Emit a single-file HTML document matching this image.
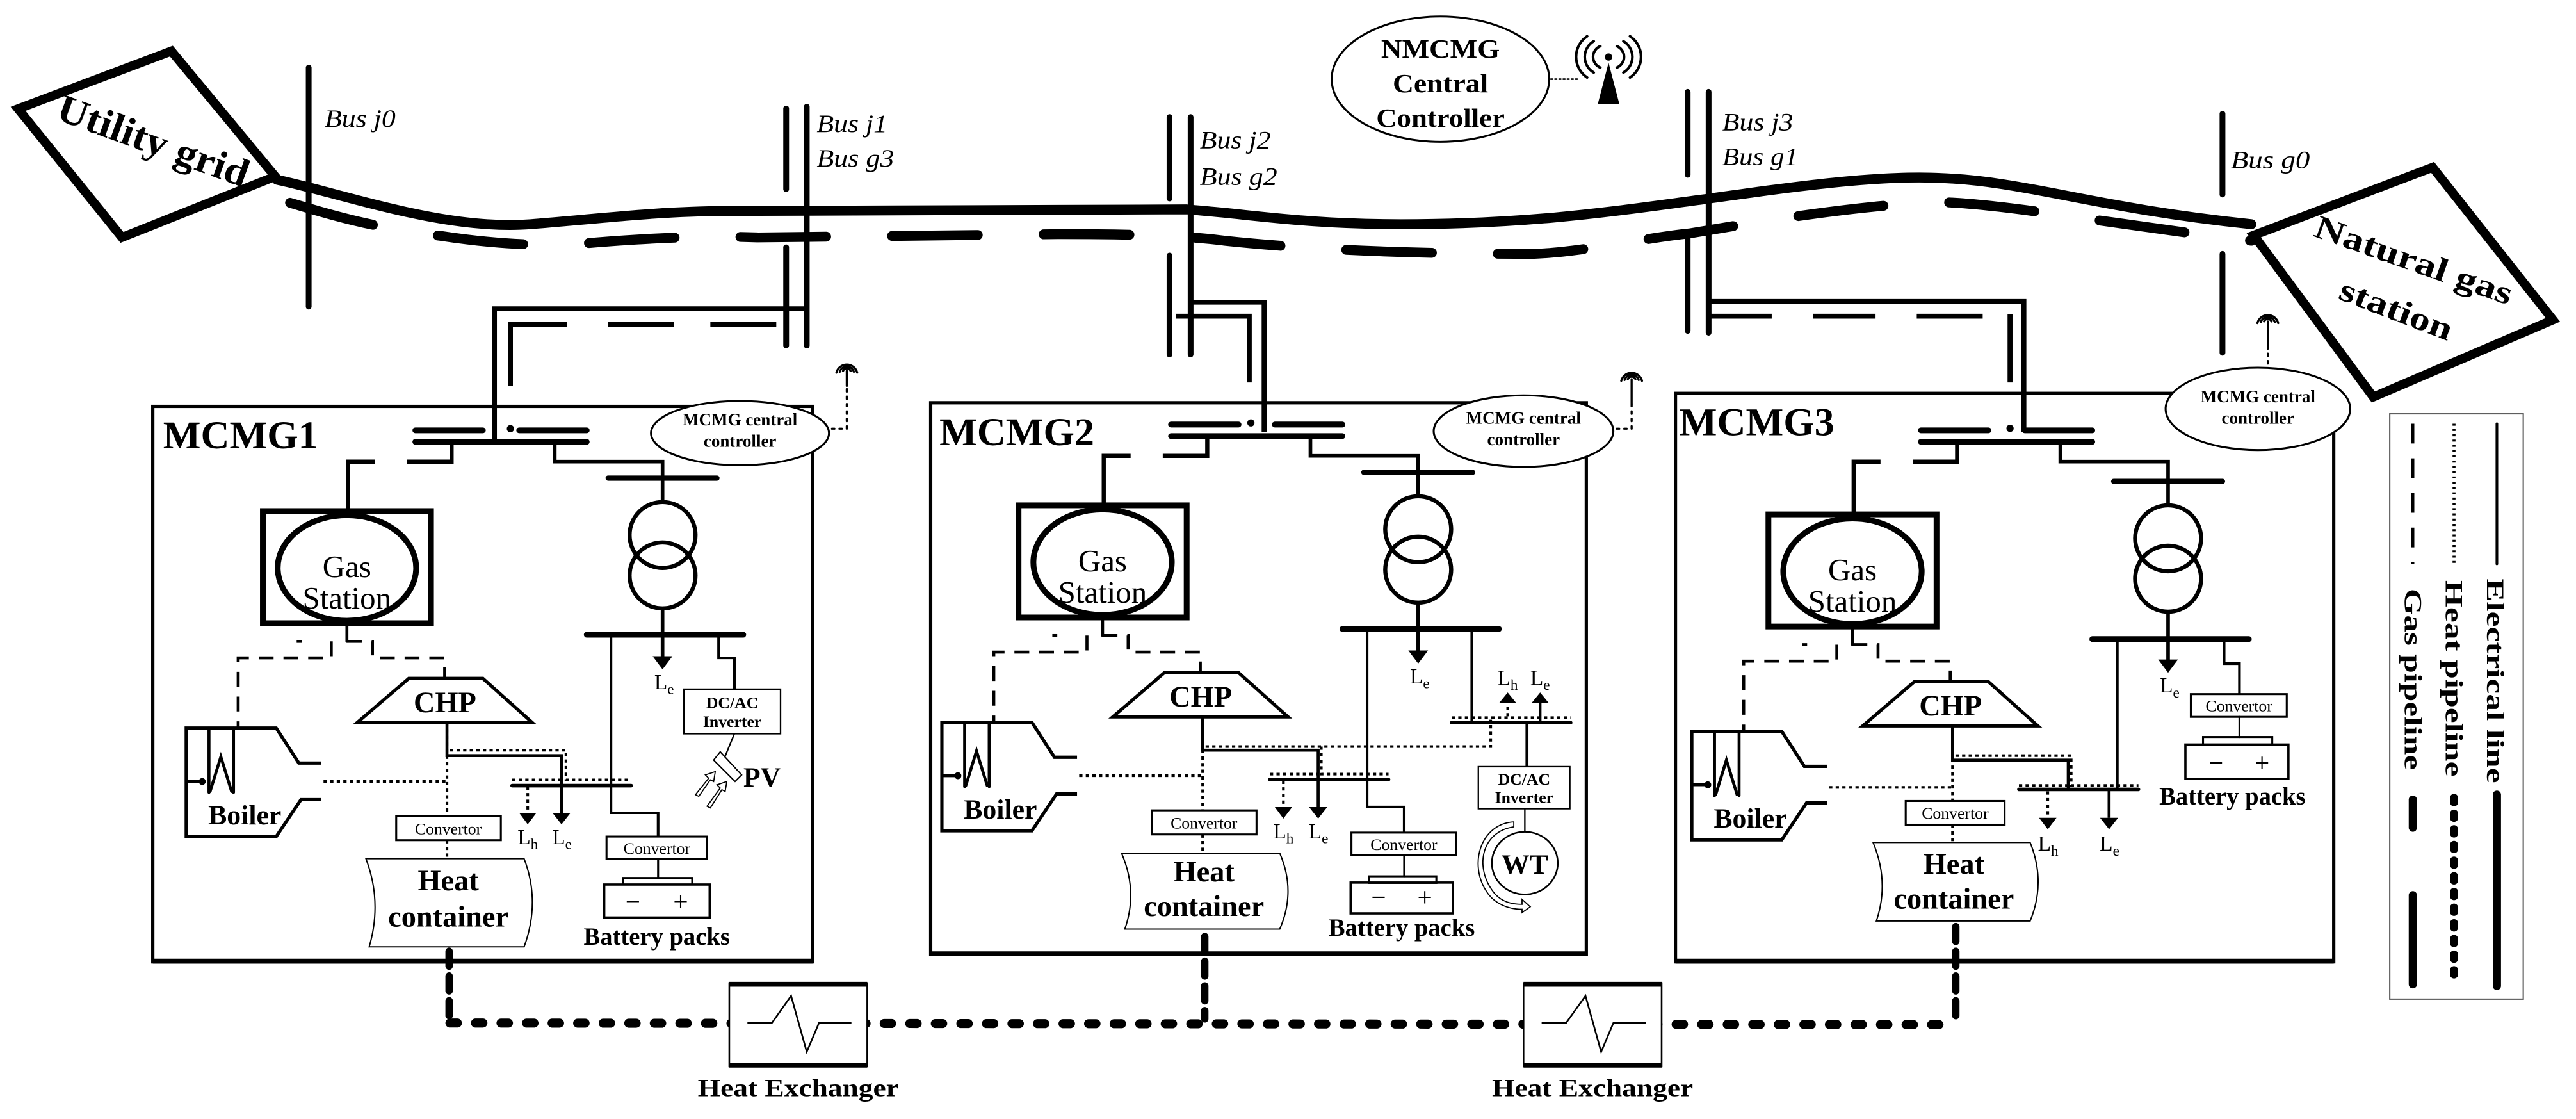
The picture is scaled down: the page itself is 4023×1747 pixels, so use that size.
<!DOCTYPE html>
<html><head><meta charset="utf-8"><style>
html,body{margin:0;padding:0;background:#fff;}
svg{display:block;}
text{font-family:"Liberation Serif",serif;fill:#000;}
.b{font-weight:bold;}
</style></head><body>
<svg xmlns="http://www.w3.org/2000/svg" width="4023" height="1747" viewBox="0 0 1563 678.7" preserveAspectRatio="none">
<rect x="0" y="0" width="1563" height="679" fill="#fff"/>
<g stroke="#000" fill="none" stroke-linecap="round">
<!-- utility grid -->
<polygon points="104,31 11,66 74,144 167,107" stroke-width="5.5" stroke-linejoin="miter" fill="#fff"/>
<!-- natural gas station -->
<polygon points="1476,101.5 1367.5,142.7 1440,240.8 1549,194" stroke-width="5.5" fill="#fff"/>
<!-- main electric line -->
<path d="M168,109 C210,118 270,140 322,136 C360,133 400,128 440,128 L720,127 C760,130 790,136 850,136 C930,136 980,128 1033,121 C1090,113 1140,106 1178,108 C1230,110 1270,126 1366,136" stroke-width="6"/>
<!-- main gas line -->
<path d="M176,123 C200,130 225,138 267,143 C300,148 330,150 362,147 C400,144 430,143 460,144 L644,142 C690,142 720,143 743,146 C790,151 850,154 930,154 C960,153 1000,144 1025,141.6 C1070,134 1130,124 1178,122.6 C1220,124 1280,136 1366,146" stroke-width="6" stroke-dasharray="52 40"/>
<!-- buses -->
<g stroke-width="3.5">
<line x1="187.3" y1="41" x2="187.3" y2="186"/>
<line x1="477" y1="65.8" x2="477" y2="114.8"/><line x1="477" y1="150" x2="477" y2="209.6"/>
<line x1="489.5" y1="64.7" x2="489.5" y2="209.6"/>
<line x1="709.6" y1="71" x2="709.6" y2="120.4"/><line x1="709.6" y1="155" x2="709.6" y2="215"/>
<line x1="722.4" y1="71" x2="722.4" y2="215"/>
<line x1="1024" y1="55.7" x2="1024" y2="106"/><line x1="1024" y1="140.5" x2="1024" y2="200.7"/>
<line x1="1036.7" y1="55.7" x2="1036.7" y2="201.8"/>
<line x1="1348.5" y1="69" x2="1348.5" y2="118"/><line x1="1348.5" y1="154" x2="1348.5" y2="214"/>
</g>
<!-- connections -->
<g stroke-width="3" stroke-linecap="butt">
<path d="M489.5,187.3 H300 V268"/>
<path d="M471,196.7 H309.7 V234" stroke-dasharray="40 22 40 25 80"/>
<path d="M722.4,183.3 H767 V262"/>
<path d="M713.5,191.8 H758 V232"/>
<path d="M1036.7,182.9 H1228 V262"/>
<path d="M1037.7,191.8 H1075 M1100,191.8 H1138 M1163,191.8 H1203 M1219.6,190.7 V232"/>
</g>
<!-- MCMG boxes -->
<rect x="92.7" y="246.5" width="400.3" height="336.9" stroke-width="2"/>
<rect x="564.7" y="244.3" width="397.8" height="334.4" stroke-width="2"/>
<rect x="1016.6" y="238.6" width="399.4" height="344.8" stroke-width="2"/>
<line x1="92.7" y1="583" x2="493" y2="583" stroke-width="3" stroke-linecap="butt"/>
<line x1="564.7" y1="578.5" x2="962.5" y2="578.5" stroke-width="3" stroke-linecap="butt"/>
<line x1="1016.6" y1="583" x2="1416" y2="583" stroke-width="3" stroke-linecap="butt"/>
<!-- controllers -->
<ellipse cx="874" cy="48" rx="66" ry="38" stroke-width="1.2" fill="#fff"/>
<line x1="941" y1="48" x2="958" y2="48" stroke-width="1" stroke-dasharray="1 1.5"/>
<ellipse cx="449" cy="262.7" rx="54" ry="19.5" stroke-width="1.2" fill="#fff"/>
<ellipse cx="924.4" cy="261.5" rx="54.5" ry="21.7" stroke-width="1.2" fill="#fff"/>
<ellipse cx="1370" cy="248" rx="56" ry="25" stroke-width="1.2" fill="#fff"/>
<g stroke-width="1.3" stroke-dasharray="1.5 3">
<path d="M513.8,236 V260 H503"/>
<path d="M990,245 V260 H980"/>
<path d="M1376,210 V223"/>
</g>
<!-- antennas -->
<g stroke-width="1.3">
<path d="M513.8,225 V234"/><path d="M511.5,225 a2.5,2.5 0 0 1 4.6,0 M509.5,225.5 a4.5,4.5 0 0 1 8.6,0 M507.5,226 a6.5,6.5 0 0 1 12.6,0"/>
<path d="M990,230 V245"/><path d="M987.7,230 a2.5,2.5 0 0 1 4.6,0 M985.7,230.5 a4.5,4.5 0 0 1 8.6,0 M983.7,231 a6.5,6.5 0 0 1 12.6,0"/>
<path d="M1376,195 V210"/><path d="M1373.7,195 a2.5,2.5 0 0 1 4.6,0 M1371.7,195.5 a4.5,4.5 0 0 1 8.6,0 M1369.7,196 a6.5,6.5 0 0 1 12.6,0"/>
<path d="M971,28 a7,7 0 0 0 0,13 M967,25 a11,11 0 0 0 0,19 M963,22 a15,15 0 0 0 0,25 M981,28 a7,7 0 0 1 0,13 M985,25 a11,11 0 0 1 0,19 M989,22 a15,15 0 0 1 0,25" stroke-width="1.6"/>
</g>
<polygon points="969.5,63 982.5,63 976,38" fill="#000" stroke="none"/>
<circle cx="976" cy="34.6" r="2.2" fill="#000" stroke="none"/>

<!-- bottom heat pipe -->
<line x1="273" y1="620.5" x2="1186.7" y2="621.5" stroke-width="5.5" stroke-dasharray="4.5 11"/>
<g stroke-width="4.5" stroke-dasharray="9 6">
<line x1="272.5" y1="577" x2="272.5" y2="618"/>
<line x1="731" y1="568" x2="731" y2="618"/>
<line x1="1186.7" y1="562" x2="1186.7" y2="618"/>
</g>
<!-- heat exchangers -->
<g stroke-linecap="butt">
<rect x="442.5" y="596.3" width="83.7" height="50.5" fill="#fff" stroke-width="1"/>
<line x1="442.5" y1="597" x2="526.2" y2="597" stroke-width="3"/><line x1="442.5" y1="646" x2="526.2" y2="646" stroke-width="3"/>
<polyline points="453.5,620.5 468.3,620.5 480,604 489.5,638 497,620.3 516.6,620.3" stroke-width="1"/>
<rect x="924.4" y="596.3" width="83.8" height="50.5" fill="#fff" stroke-width="1"/>
<line x1="924.4" y1="597" x2="1008.2" y2="597" stroke-width="3"/><line x1="924.4" y1="646" x2="1008.2" y2="646" stroke-width="3"/>
<polyline points="935.4,620.5 950.2,620.5 962,604 971.5,638 979,620.3 998.6,620.3" stroke-width="1"/>
</g>

<!-- legend -->
<rect x="1450" y="251" width="81" height="355" stroke="#555" stroke-width="0.8" stroke-linecap="butt"/>
<line x1="1515" y1="257" x2="1515" y2="342" stroke-width="1.6"/>
<line x1="1489" y1="257" x2="1489" y2="342" stroke-width="1.8" stroke-dasharray="1.2 2" stroke-linecap="butt"/>
<line x1="1464" y1="257" x2="1464" y2="342" stroke-width="1.8" stroke-dasharray="12 9" stroke-linecap="butt"/>
<line x1="1515" y1="482" x2="1515" y2="598" stroke-width="5"/>
<line x1="1489" y1="484" x2="1489" y2="598" stroke-width="5" stroke-dasharray="2.5 7"/>
<line x1="1464" y1="485" x2="1464" y2="502" stroke-width="5"/>
<line x1="1464" y1="543" x2="1464" y2="597" stroke-width="5"/>
</g>

<!-- top texts -->
<text class="b" transform="translate(33,72) rotate(20)" font-size="24" textLength="122" lengthAdjust="spacingAndGlyphs">Utility grid</text>
<text class="b" transform="translate(1403,143) rotate(19.5)" font-size="20" textLength="126" lengthAdjust="spacingAndGlyphs">Natural gas</text>
<text class="b" transform="translate(1418,181) rotate(21)" font-size="20" textLength="72" lengthAdjust="spacingAndGlyphs">station</text>
<g font-style="italic" font-size="15">
<text x="197" y="77" textLength="43" lengthAdjust="spacingAndGlyphs">Bus j0</text>
<text x="495.5" y="80" textLength="43" lengthAdjust="spacingAndGlyphs">Bus j1</text>
<text x="495.5" y="101" textLength="47" lengthAdjust="spacingAndGlyphs">Bus g3</text>
<text x="728" y="90" textLength="43" lengthAdjust="spacingAndGlyphs">Bus j2</text>
<text x="728" y="112" textLength="47" lengthAdjust="spacingAndGlyphs">Bus g2</text>
<text x="1045" y="79" textLength="43" lengthAdjust="spacingAndGlyphs">Bus j3</text>
<text x="1045" y="100" textLength="46" lengthAdjust="spacingAndGlyphs">Bus g1</text>
<text x="1353.5" y="102" textLength="48" lengthAdjust="spacingAndGlyphs">Bus g0</text>
</g>
<g class="b" text-anchor="middle" font-size="16">
<text x="874" y="35" textLength="72" lengthAdjust="spacingAndGlyphs">NMCMG</text>
<text x="874" y="56" textLength="58" lengthAdjust="spacingAndGlyphs">Central</text>
<text x="874" y="77" textLength="78" lengthAdjust="spacingAndGlyphs">Controller</text>
</g>
<g class="b" text-anchor="middle" font-size="10.5">
<text x="449" y="258">MCMG central</text><text x="449" y="271">controller</text>
<text x="924.4" y="257">MCMG central</text><text x="924.4" y="270">controller</text>
<text x="1370" y="244">MCMG central</text><text x="1370" y="257">controller</text>
</g>
<g class="b" font-size="24">
<text x="99" y="272" textLength="94" lengthAdjust="spacingAndGlyphs">MCMG1</text>
<text x="570" y="270" textLength="94" lengthAdjust="spacingAndGlyphs">MCMG2</text>
<text x="1019" y="264" textLength="94" lengthAdjust="spacingAndGlyphs">MCMG3</text>
</g>
<g class="b" text-anchor="middle" font-size="15">
<text x="484.4" y="665" textLength="122" lengthAdjust="spacingAndGlyphs">Heat Exchanger</text>
<text x="966.3" y="665" textLength="122" lengthAdjust="spacingAndGlyphs">Heat Exchanger</text>
</g>
<g class="b" font-size="15">
<text transform="translate(1509,351) rotate(90)" textLength="124" lengthAdjust="spacingAndGlyphs">Electrical line</text>
<text transform="translate(1484,352) rotate(90)" textLength="119" lengthAdjust="spacingAndGlyphs">Heat pipeline</text>
<text transform="translate(1459,357) rotate(90)" textLength="110" lengthAdjust="spacingAndGlyphs">Gas pipeline</text>
</g>

<!-- ================= MCMG1 ================= -->
<g>
<g stroke="#000" fill="none" stroke-linecap="round">
<line x1="252" y1="261" x2="293" y2="261" stroke-width="3.5"/>
<line x1="315" y1="261" x2="356" y2="261" stroke-width="3.5"/>
<line x1="252" y1="268" x2="356" y2="268" stroke-width="3.5"/>
<path d="M274,268 V280 H247 M227.5,280 H211.2 V310" stroke-width="2.5" stroke-linecap="butt"/>
<path d="M336.6,268 V280 H402 V305" stroke-width="2.2" stroke-linecap="butt"/>
<line x1="369" y1="290" x2="435" y2="290" stroke-width="3.2"/>
<circle cx="402" cy="324.5" r="20" stroke-width="2.5"/>
<circle cx="402" cy="349" r="20" stroke-width="2.5"/>
<line x1="402" y1="369" x2="402" y2="399" stroke-width="2.2" stroke-linecap="butt"/>
<line x1="356" y1="385" x2="451" y2="385" stroke-width="3.5"/>
<path d="M436,385 V399 H445.6 V418" stroke-width="1.6" stroke-linecap="butt"/>
<rect x="415" y="418" width="58.6" height="27" stroke-width="0.9" fill="#fff"/>
<line x1="445.6" y1="445" x2="437.4" y2="465" stroke-width="0.9"/>
<path d="M437,456 L450,470 L446,474 L433,461 Z" stroke-width="0.8" fill="#fff"/>
<path d="M422,482 L430,472 L428,470 L434,468 L433,474 L431,473 L424,483 Z M429,489 L437,478 L435,476 L441,474 L440,480 L438,479 L431,490 Z" stroke-width="0.7" fill="#fff"/>
<path d="M370.7,385 V493 H399.3 V507.4" stroke-width="1.6" stroke-linecap="butt"/>
<rect x="368" y="507.4" width="61" height="13.4" stroke-width="1.2" fill="#fff"/>
<line x1="399.3" y1="520.8" x2="399.3" y2="532.5" stroke-width="1.2"/>
<rect x="378" y="532.5" width="42" height="4" stroke-width="1.2"/>
<rect x="366.6" y="536.5" width="64" height="20" stroke-width="1.4"/>
<rect x="159.5" y="310" width="102" height="68" stroke-width="3.5" stroke-linecap="butt"/>
<ellipse cx="210.5" cy="344.5" rx="42" ry="32" stroke-width="3.5"/>
<line x1="210.5" y1="378" x2="210.5" y2="389" stroke-width="1.8"/>
<g stroke-width="1.8" stroke-linecap="butt">
<path d="M210.5,389 H226 V399 H269.8 V411.5" stroke-dasharray="9 6"/>
<path d="M201,389 V399 H144.5 V441.6" stroke-dasharray="9 6"/>
<line x1="180" y1="389" x2="183" y2="389"/>
</g>
<polygon points="248,411.5 293,411.5 323,438.3 216.7,438.3" stroke-width="2" fill="#fff" stroke-linejoin="miter"/>
<path d="M195,462.8 H181.3 L167.6,441.6 H113 V507.4 H167.6 L182.6,485 H195" stroke-width="2" stroke-linecap="butt"/>
<path d="M126.8,441.6 V480.6 M141.7,441.6 V480.6 M113,474 H122.7" stroke-width="1.8"/>
<polyline points="127.5,480 134,459 140.5,480" stroke-width="1.8" stroke-linejoin="miter"/>
<circle cx="122.7" cy="474" r="1.6" fill="#000"/>
<g stroke-width="1.6" stroke-dasharray="2 2" stroke-linecap="butt">
<path d="M196.3,474 H271.2"/>
<path d="M271.2,438.3 V495"/>
<path d="M271.2,509.6 V520.8"/>
<path d="M273,455 H343.4 V473 H383 M310.7,473 H343"/>
<path d="M320.2,477 V493"/>
</g>
<path d="M271.2,438.3 V458.3 H340.7 V493" stroke-width="1.8" stroke-linecap="butt"/>
<line x1="310.7" y1="476.5" x2="383" y2="476.5" stroke-width="2.2"/>
<rect x="240.4" y="495" width="63.5" height="14.6" stroke-width="1.2" fill="#fff"/>
<path d="M222,520.8 H318 Q328,547 318,574.3 H224 Q232,547 222,520.8 Z" stroke-width="0.8" fill="#fff"/>
</g>
<polygon points="396,398 408,398 402,406" fill="#000"/>
<polygon points="315,493 325.5,493 320.2,500" fill="#000"/>
<polygon points="335.2,493 346.2,493 340.7,500" fill="#000"/>
<g text-anchor="middle">
<text x="210.5" y="350" font-size="19">Gas</text>
<text x="210.5" y="369" font-size="19">Station</text>
<text class="b" x="270" y="432" font-size="18">CHP</text>
<text class="b" x="148.5" y="500" font-size="17">Boiler</text>
<text x="272" y="506" font-size="10">Convertor</text>
<text class="b" x="272" y="540" font-size="18">Heat</text>
<text class="b" x="272" y="562" font-size="18">container</text>
<text x="398.6" y="517.8" font-size="10">Convertor</text>
<text x="384" y="552" font-size="16">−</text><text x="413" y="552" font-size="16">+</text>
<text class="b" x="398.5" y="573" font-size="15">Battery packs</text>
<text class="b" x="444.3" y="429.5" font-size="10">DC/AC</text>
<text class="b" x="444.3" y="441" font-size="10">Inverter</text>
</g>
<text class="b" x="451" y="477" font-size="17">PV</text>
<text x="397" y="418" font-size="13">L<tspan font-size="9" dy="3">e</tspan></text>
<text x="314" y="512" font-size="13">L<tspan font-size="9" dy="3">h</tspan></text>
<text x="335" y="512" font-size="13">L<tspan font-size="9" dy="3">e</tspan></text>
<circle cx="309.7" cy="260" r="2.2" fill="#000"/>
</g>

<!-- ================= MCMG2 ================= -->
<g transform="translate(458.5,-3.5)">
<g stroke="#000" fill="none" stroke-linecap="round">
<line x1="252" y1="261" x2="293" y2="261" stroke-width="3.5"/>
<line x1="315" y1="261" x2="356" y2="261" stroke-width="3.5"/>
<line x1="252" y1="268" x2="356" y2="268" stroke-width="3.5"/>
<path d="M274,268 V280 H247 M227.5,280 H211.2 V310" stroke-width="2.5" stroke-linecap="butt"/>
<path d="M336.6,268 V280 H402 V305" stroke-width="2.2" stroke-linecap="butt"/>
<line x1="369" y1="290" x2="435" y2="290" stroke-width="3.2"/>
<circle cx="402" cy="324.5" r="20" stroke-width="2.5"/>
<circle cx="402" cy="349" r="20" stroke-width="2.5"/>
<line x1="402" y1="369" x2="402" y2="399" stroke-width="2.2" stroke-linecap="butt"/>
<line x1="356" y1="385" x2="451" y2="385" stroke-width="3.5"/>
<path d="M434.5,385 V441.8" stroke-width="1.6" stroke-linecap="butt"/>
<line x1="422.3" y1="441.8" x2="494.5" y2="441.8" stroke-width="2.2"/>
<line x1="422.3" y1="438.8" x2="494.5" y2="438.8" stroke-width="1.6" stroke-dasharray="2 2" stroke-linecap="butt"/>
<line x1="456.3" y1="438" x2="456.3" y2="429" stroke-width="1.6" stroke-dasharray="2 2" stroke-linecap="butt"/>
<line x1="476" y1="442" x2="476" y2="429" stroke-width="1.6" stroke-linecap="butt"/>
<line x1="468" y1="442" x2="468" y2="468.5" stroke-width="1.8" stroke-linecap="butt"/>
<rect x="438.5" y="468.5" width="55.5" height="25.5" stroke-width="0.9" fill="#fff"/>
<line x1="466.7" y1="494" x2="466.7" y2="508" stroke-width="0.9"/>
<ellipse cx="466.7" cy="527" rx="20" ry="19" stroke-width="1"/>
<path d="M460,505 C440,508 436,530 448,545 C452,550 458,552 465,552 L465,549 L470,553.5 L465,557 L465,555 C456,555 448,551 444,545 C432,528 440,503 460,502 Z" stroke-width="0.7" fill="#fff"/>
<path d="M371,385 V493 H393.5 V508.5" stroke-width="1.6" stroke-linecap="butt"/>
<rect x="361.5" y="508.5" width="63.5" height="13.5" stroke-width="1.2" fill="#fff"/>
<line x1="393.5" y1="522" x2="393.5" y2="535" stroke-width="1.2"/>
<rect x="372" y="535" width="41" height="4" stroke-width="1.2"/>
<rect x="361" y="538.8" width="62" height="18.7" stroke-width="1.4"/>
<rect x="159.5" y="310" width="102" height="68" stroke-width="3.5" stroke-linecap="butt"/>
<ellipse cx="210.5" cy="344.5" rx="42" ry="32" stroke-width="3.5"/>
<line x1="210.5" y1="378" x2="210.5" y2="389" stroke-width="1.8"/>
<g stroke-width="1.8" stroke-linecap="butt">
<path d="M210.5,389 H226 V399 H269.8 V411.5" stroke-dasharray="9 6"/>
<path d="M201,389 V399 H144.5 V441.6" stroke-dasharray="9 6"/>
<line x1="180" y1="389" x2="183" y2="389"/>
</g>
<polygon points="248,411.5 293,411.5 323,438.3 216.7,438.3" stroke-width="2" fill="#fff"/>
<path d="M195,462.8 H181.3 L167.6,441.6 H113 V507.4 H167.6 L182.6,485 H195" stroke-width="2" stroke-linecap="butt"/>
<path d="M126.8,441.6 V480.6 M141.7,441.6 V480.6 M113,474 H122.7" stroke-width="1.8"/>
<polyline points="127.5,480 134,459 140.5,480" stroke-width="1.8"/>
<circle cx="122.7" cy="474" r="1.6" fill="#000"/>
<g stroke-width="1.6" stroke-dasharray="2 2" stroke-linecap="butt">
<path d="M196.3,474 H271.2"/>
<path d="M271.2,438.3 V495"/>
<path d="M271.2,509.6 V520.8"/>
<path d="M273,456.3 H446 V440"/>
<path d="M343.2,456.3 V473 H384 M312,473 H343"/>
<path d="M320.2,477 V493"/>
</g>
<path d="M271.2,438.3 V458.5 H341.3 V493" stroke-width="1.8" stroke-linecap="butt"/>
<line x1="312" y1="476.3" x2="384" y2="476.3" stroke-width="2.2"/>
<rect x="240.4" y="495" width="63.5" height="14.6" stroke-width="1.2" fill="#fff"/>
<path d="M222,521 H318 Q328,544 318,567 H224 Q232,544 222,521 Z" stroke-width="0.8" fill="#fff"/>
</g>
<polygon points="396,398 408,398 402,406" fill="#000"/>
<polygon points="315,493 325.5,493 320.2,500" fill="#000"/>
<polygon points="335.8,493 346.8,493 341.3,500" fill="#000"/>
<polygon points="451,430 461.6,430 456.3,423.5" fill="#000"/>
<polygon points="470.7,430 481.3,430 476,423.5" fill="#000"/>
<g text-anchor="middle">
<text x="210.5" y="350" font-size="19">Gas</text>
<text x="210.5" y="369" font-size="19">Station</text>
<text class="b" x="270" y="432" font-size="18">CHP</text>
<text class="b" x="148.5" y="500" font-size="17">Boiler</text>
<text x="272" y="506" font-size="10">Convertor</text>
<text class="b" x="272" y="538" font-size="18">Heat</text>
<text class="b" x="272" y="559" font-size="18">container</text>
<text x="393.3" y="519" font-size="10">Convertor</text>
<text x="378" y="553" font-size="16">−</text><text x="406" y="553" font-size="16">+</text>
<text class="b" x="392" y="571" font-size="15">Battery packs</text>
<text class="b" x="466.3" y="479.5" font-size="10">DC/AC</text>
<text class="b" x="466.3" y="490.5" font-size="10">Inverter</text>
<text class="b" x="466.7" y="533.5" font-size="17">WT</text>
</g>
<text x="397" y="418" font-size="13">L<tspan font-size="9" dy="3">e</tspan></text>
<text x="450" y="419" font-size="13">L<tspan font-size="9" dy="3">h</tspan></text>
<text x="470" y="419" font-size="13">L<tspan font-size="9" dy="3">e</tspan></text>
<text x="314" y="512" font-size="13">L<tspan font-size="9" dy="3">h</tspan></text>
<text x="335.5" y="512" font-size="13">L<tspan font-size="9" dy="3">e</tspan></text>
<circle cx="300.5" cy="260" r="2.2" fill="#000"/>
</g>

<!-- ================= MCMG3 ================= -->
<g transform="translate(913.5,2)">
<g stroke="#000" fill="none" stroke-linecap="round">
<line x1="252" y1="259" x2="293" y2="259" stroke-width="3.5"/>
<line x1="315" y1="259" x2="356" y2="259" stroke-width="3.5"/>
<line x1="252" y1="266" x2="356" y2="266" stroke-width="3.5"/>
<path d="M274,266 V278 H247 M227.5,278 H211.2 V310" stroke-width="2.5" stroke-linecap="butt"/>
<path d="M336.6,266 V278 H402 V305" stroke-width="2.2" stroke-linecap="butt"/>
<line x1="369" y1="290" x2="435" y2="290" stroke-width="3.2"/>
<circle cx="402" cy="324.5" r="20" stroke-width="2.5"/>
<circle cx="402" cy="349" r="20" stroke-width="2.5"/>
<line x1="402" y1="369" x2="402" y2="399" stroke-width="2.2" stroke-linecap="butt"/>
<line x1="356" y1="385.6" x2="451" y2="385.6" stroke-width="3.5"/>
<path d="M436,385.6 V400.5 H445.3 V419" stroke-width="1.6" stroke-linecap="butt"/>
<rect x="415.8" y="419" width="58.2" height="13.8" stroke-width="1.2" fill="#fff"/>
<line x1="445.3" y1="432.8" x2="445.3" y2="445" stroke-width="1.2"/>
<rect x="423.2" y="445" width="42" height="4.6" stroke-width="1.2"/>
<rect x="412.5" y="449.6" width="62.5" height="20.8" stroke-width="1.4"/>
<path d="M371.2,385.6 V476.8" stroke-width="1.6" stroke-linecap="butt"/>
<rect x="159.5" y="310" width="102" height="68" stroke-width="3.5" stroke-linecap="butt"/>
<ellipse cx="210.5" cy="344.5" rx="42" ry="32" stroke-width="3.5"/>
<line x1="210.5" y1="378" x2="210.5" y2="389" stroke-width="1.8"/>
<g stroke-width="1.8" stroke-linecap="butt">
<path d="M210.5,389 H226 V399 H269.8 V411.5" stroke-dasharray="9 6"/>
<path d="M201,389 V399 H144.5 V441.6" stroke-dasharray="9 6"/>
<line x1="180" y1="389" x2="183" y2="389"/>
</g>
<polygon points="248,411.5 293,411.5 323,438.3 216.7,438.3" stroke-width="2" fill="#fff"/>
<path d="M195,462.8 H181.3 L167.6,441.6 H113 V507.4 H167.6 L182.6,485 H195" stroke-width="2" stroke-linecap="butt"/>
<path d="M126.8,441.6 V480.6 M141.7,441.6 V480.6 M113,474 H122.7" stroke-width="1.8"/>
<polyline points="127.5,480 134,459 140.5,480" stroke-width="1.8"/>
<circle cx="122.7" cy="474" r="1.6" fill="#000"/>
<g stroke-width="1.6" stroke-dasharray="2 2" stroke-linecap="butt">
<path d="M196.3,475.6 H271.2"/>
<path d="M271.2,438.3 V483.8"/>
<path d="M271.2,498.2 V509"/>
<path d="M273,456.3 H343.2 V474.4 H384 M311.5,474.4 H343"/>
<path d="M329,478 V494"/>
</g>
<path d="M271.2,438.3 V459 H341.4 V476.8" stroke-width="1.8" stroke-linecap="butt"/>
<path d="M366.2,477 V494" stroke-width="1.8" stroke-linecap="butt"/>
<line x1="311.5" y1="476.8" x2="384" y2="476.8" stroke-width="2.2"/>
<rect x="242.8" y="483.8" width="60" height="14.4" stroke-width="1.2" fill="#fff"/>
<path d="M223,509 H318.3 Q328,533 318.3,556.6 H225 Q233,533 223,509 Z" stroke-width="0.8" fill="#fff"/>
</g>
<polygon points="396,398 408,398 402,406" fill="#000"/>
<polygon points="323.7,494 334.3,494 329,501" fill="#000"/>
<polygon points="360.7,494 371.7,494 366.2,501" fill="#000"/>
<g text-anchor="middle">
<text x="210.5" y="350" font-size="19">Gas</text>
<text x="210.5" y="369" font-size="19">Station</text>
<text class="b" x="270" y="432" font-size="18">CHP</text>
<text class="b" x="148.5" y="500" font-size="17">Boiler</text>
<text x="272.8" y="494.5" font-size="10">Convertor</text>
<text class="b" x="272" y="528" font-size="18">Heat</text>
<text class="b" x="272" y="549" font-size="18">container</text>
<text x="445" y="429.5" font-size="10">Convertor</text>
<text x="431" y="466" font-size="16">−</text><text x="459" y="466" font-size="16">+</text>
<text class="b" x="441" y="486" font-size="15">Battery packs</text>
</g>
<text x="397" y="418" font-size="13">L<tspan font-size="9" dy="3">e</tspan></text>
<text x="323" y="514" font-size="13">L<tspan font-size="9" dy="3">h</tspan></text>
<text x="360.5" y="514" font-size="13">L<tspan font-size="9" dy="3">e</tspan></text>
<circle cx="306.1" cy="257.8" r="2.2" fill="#000"/>
</g>
</svg>
</body></html>
